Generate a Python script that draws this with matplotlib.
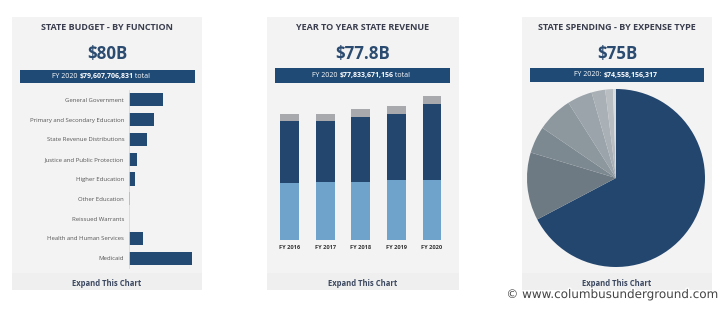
import matplotlib
matplotlib.use("Agg")
import matplotlib.pyplot as plt
import matplotlib.patheffects as pe
from matplotlib.patches import Rectangle
from matplotlib.text import Annotation

# ---------------- data ----------------
budget_categories = ["General Government", "Primary and Secondary Education",
                     "State Revenue Distributions", "Justice and Public Protection",
                     "Higher Education", "Other Education", "Reissued Warrants",
                     "Health and Human Services", "Medicaid"]
budget_values = [16.0, 11.7, 8.5, 3.8, 2.6, 0.7, 0.2, 6.6, 29.6]  # $B

revenue_years = ["FY 2016", "FY 2017", "FY 2018", "FY 2019", "FY 2020"]
revenue_light = [30.8, 31.3, 31.3, 32.4, 32.4]
revenue_dark = [33.5, 33.0, 35.1, 35.6, 41.0]
revenue_gray = [3.8, 3.8, 4.3, 4.3, 4.3]

spending_values = [50.2, 9.2, 3.65, 4.85, 3.4, 1.85, 1.05, 0.4]
spending_colors = ["#23466f", "#6e7a83", "#7d8991", "#8c979e", "#9ba4aa",
                   "#aab1b6", "#b9bec2", "#d9dcde"]

titles = ["STATE BUDGET - BY FUNCTION", "YEAR TO YEAR STATE REVENUE",
          "STATE SPENDING - BY EXPENSE TYPE"]
big_numbers = ["$80B", "$77.8B", "$75B"]
banner_parts = [("FY 2020 ", "$79,607,706,831", " total"),
                ("FY 2020 ", "$77,833,671,156", " total"),
                ("FY 2020: ", "$74,558,156,317", "")]

# ---------------- styles ----------------
W, H = 725, 309
NAVY = "#23466f"
LIGHT = "#6fa3cb"
GRAY = "#a7a9ac"
PANEL = "#f3f3f3"
TITLE_C = "#3a3e4e"
FONT = ["Open Sans", "DejaVu Sans"]

fig = plt.figure(figsize=(W / 100, H / 100), dpi=100)
fig.patch.set_facecolor("white")


def fx(x):
    return x / W


def fy(y):
    return 1 - y / H


def add_ax(x0, y0, x1, y1):
    ax = fig.add_axes([fx(x0), fy(y1), (x1 - x0) / W, (y1 - y0) / H])
    ax.set_zorder(5)
    ax.patch.set_alpha(0)
    return ax


def rect(x0, y0, x1, y1, color, z=0):
    fig.patches.append(Rectangle((fx(x0), fy(y1)), (x1 - x0) / W, (y1 - y0) / H,
                                 transform=fig.transFigure, facecolor=color,
                                 edgecolor="none", zorder=z))


panels = [(12, 202), (267, 459), (522, 712)]
banners = [(20, 195, 70, 83), (275, 450, 68, 83), (530, 704, 68, 82)]
banner_start = [52, 312, 574]

for i, (x0, x1) in enumerate(panels):
    rect(x0, 17, x1, 290, PANEL)
    rect(x0, 273, x1, 290, "#efefef")
    cx = (x0 + x1) / 2
    fig.text(fx(cx), fy(28), titles[i], ha="center", va="center",
             fontsize=6.5, fontweight="bold", color=TITLE_C, family=FONT)
    fig.text(fx(cx), fy(54.5), big_numbers[i], ha="center", va="center",
             fontsize=12.2, fontweight="bold", color="#2b4b70", family=FONT)
    bx0, bx1, by0, by1 = banners[i]
    rect(bx0, by0, bx1, by1, "#1f4a76", z=1)
    a, b, c = banner_parts[i]
    ymid = (by0 + by1) / 2
    t1 = fig.text(fx(banner_start[i]), fy(ymid), a, ha="left", va="center",
                  fontsize=5.0, color="white", family=FONT, zorder=3)
    ann = fig.add_artist(Annotation(
        b, xy=(1, 0), xycoords=t1, xytext=(0, 0), textcoords="offset points",
        ha="left", va="bottom", fontsize=5.0, fontweight="bold", color="white",
        family=FONT, annotation_clip=False, zorder=3))
    if c:
        fig.add_artist(Annotation(
            c, xy=(1, 0), xycoords=ann, xytext=(0, 0), textcoords="offset points",
            ha="left", va="bottom", fontsize=5.0, color="white",
            family=FONT, annotation_clip=False, zorder=3))
    fig.text(fx(cx), fy(283), "Expand This Chart", ha="center", va="center",
             fontsize=5.5, fontweight="bold", color="#3b4860", family=FONT)

# ---------------- chart 1: horizontal bars ----------------
ax1 = add_ax(129, 90, 195, 268)
ypos = list(range(len(budget_categories)))
ax1.barh(ypos, budget_values, height=0.66, color="#234a73")
ax1.set_xlim(0, 31.0)
ax1.set_ylim(len(budget_categories) - 0.5, -0.5)
ax1.set_yticks(ypos)
ax1.set_yticklabels(budget_categories, fontsize=4.3, color="#555555", family=FONT)
ax1.tick_params(axis="y", length=0, pad=3.5)
ax1.set_xticks([])
for s in ["top", "right", "bottom"]:
    ax1.spines[s].set_visible(False)
ax1.spines["left"].set_color("#d8d8d8")
ax1.spines["left"].set_linewidth(0.6)

# ---------------- chart 2: stacked columns ----------------
ax2 = add_ax(271.7, 90, 449.8, 240)
xs = list(range(len(revenue_years)))
ax2.bar(xs, revenue_light, width=0.53, color=LIGHT)
ax2.bar(xs, revenue_dark, width=0.53, bottom=revenue_light, color=NAVY)
bottoms = [l + d for l, d in zip(revenue_light, revenue_dark)]
ax2.bar(xs, revenue_gray, width=0.53, bottom=bottoms, color=GRAY)
ax2.set_xlim(-0.5, len(revenue_years) - 0.5)
ax2.set_ylim(0, 80.9)
ax2.set_xticks(xs)
ax2.set_xticklabels(revenue_years, fontsize=4.1, fontweight="bold",
                    color="#333333", family=FONT)
ax2.tick_params(axis="x", length=0, pad=3.5)
ax2.set_yticks([])
for s in ax2.spines.values():
    s.set_visible(False)

# ---------------- chart 3: pie ----------------
R = 89
ax3 = add_ax(616 - R, 178 - R, 616 + R, 178 + R)
ax3.pie(spending_values, colors=spending_colors, startangle=90,
        counterclock=False, radius=1.0, wedgeprops=dict(linewidth=0))
ax3.set_xlim(-1, 1)
ax3.set_ylim(-1, 1)
ax3.set_aspect("equal")
ax3.axis("off")

# ---------------- watermark ----------------
wm = fig.text(fx(718), fy(294.5), "\u00a9 www.columbusunderground.com", ha="right",
              va="center", fontsize=8.6, color="#444444", family=["DejaVu Sans"],
              path_effects=[pe.withStroke(linewidth=2, foreground="white")])
wm.set_zorder(10)

fig.savefig("out.png", dpi=100, facecolor="white")
